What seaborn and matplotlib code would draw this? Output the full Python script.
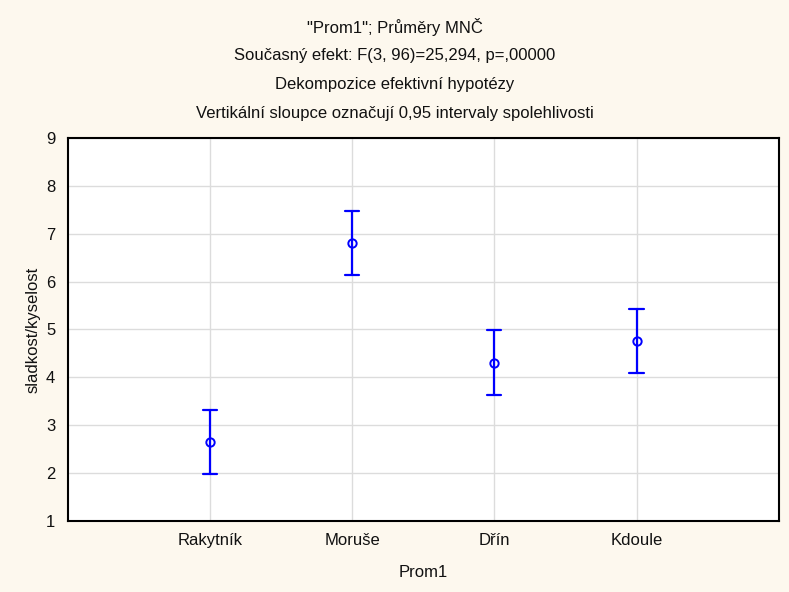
import pandas as pd
import matplotlib
matplotlib.use('Agg')
import matplotlib.pyplot as plt
import seaborn as sns

# Prom1 categories, LS means and 0.95 confidence limits
kategorie = ['Rakytník', 'Moruše', 'Dřín', 'Kdoule']
prumery = [2.65, 6.81, 4.30, 4.76]
dolni = [1.98, 6.13, 3.64, 4.09]
horni = [3.32, 7.48, 4.99, 5.43]

# long table: lower, mean, upper per category -> median = mean, 100% interval = CI
df = pd.DataFrame({
    'Prom1': kategorie * 3,
    'hodnota': dolni + prumery + horni,
})

sns.set_style('white')
plt.rcParams['font.family'] = ['Liberation Sans', 'DejaVu Sans']

bg = '#fdf8ee'
fig = plt.figure(figsize=(7.89, 5.92), dpi=100, facecolor=bg)
ax = fig.add_axes([0.086, 0.120, 0.901, 0.647])
ax.set_facecolor('white')

sns.pointplot(data=df, x='Prom1', y='hodnota', order=kategorie,
              estimator='median', errorbar=('pi', 100),
              color='#0000ff', linestyle='none', markers='o',
              markersize=6, markerfacecolor='none', markeredgewidth=1.4,
              capsize=0.1, err_kws={'linewidth': 1.6}, ax=ax)

ax.set_xlim(-1, 4)
ax.set_ylim(1, 9)
ax.set_yticks(range(1, 10))
ax.grid(True, color='#dcdcdc', linewidth=1)
ax.set_axisbelow(True)
for s in ax.spines.values():
    s.set_color('black')
    s.set_linewidth(1.5)
ax.tick_params(direction='in', length=3, width=1, labelsize=12, colors='#111111', pad=9)
ax.tick_params(axis='x', pad=9)

ax.set_xlabel('Prom1', fontsize=12, labelpad=12, color='#111111')
ax.set_ylabel('sladkost/kyselost', fontsize=12, labelpad=4, color='#111111')

titulky = ['"Prom1"; Průměry MNČ',
           'Současný efekt: F(3, 96)=25,294, p=,00000',
           'Dekompozice efektivní hypotézy',
           'Vertikální sloupce označují 0,95 intervaly spolehlivosti']
for i, t in enumerate(titulky):
    fig.text(0.5, 1 - (27 + i * 28.7) / 592, t, ha='center', va='center',
             fontsize=12, color='#111111')

fig.savefig('out.png', dpi=100, facecolor=bg)
